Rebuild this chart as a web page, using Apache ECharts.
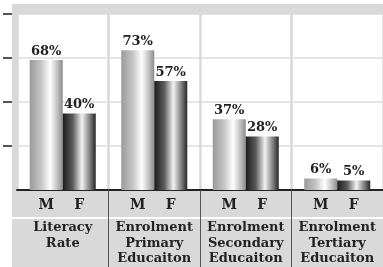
<!DOCTYPE html>
<html>
<head>
<meta charset="utf-8">
<script src="https://cdn.jsdelivr.net/npm/echarts@6/dist/echarts.min.js"></script>
<style>html,body{margin:0;padding:0;background:#fff;}#c{width:383px;height:267px;}</style>
</head>
<body>
<div id="c"></div>
<script>
const categories = ['Literacy\nRate', 'Enrolment\nPrimary\nEducaiton', 'Enrolment\nSecondary\nEducaiton', 'Enrolment\nTertiary\nEducaiton'];
const maleValues = [68, 73, 37, 6];
const femaleValues = [40, 57, 28, 5];
const seriesNames = ['M', 'F'];
const yTickValues = [23, 46, 69, 92];

const FONT = 'DejaVu Serif';
const chart = echarts.init(document.getElementById('c'), null, {renderer: 'canvas'});

const mGrad = new echarts.graphic.LinearGradient(0, 0, 1, 0, [
  {offset: 0, color: '#9a9a9a'},
  {offset: 0.35, color: '#c6c6c6'},
  {offset: 0.62, color: '#ffffff'},
  {offset: 0.85, color: '#bdbdbd'},
  {offset: 1, color: '#8c8c8c'}
]);
const fGrad = new echarts.graphic.LinearGradient(0, 0, 1, 0, [
  {offset: 0, color: '#1c1c1c'},
  {offset: 0.3, color: '#5a5a5a'},
  {offset: 0.58, color: '#f2f2f2'},
  {offset: 0.8, color: '#8a8a8a'},
  {offset: 1, color: '#262626'}
]);

const barLabel = {
  show: true, position: 'top', distance: 2,
  formatter: '{c}%', fontFamily: FONT, fontWeight: 'bold', fontSize: 13, color: '#222'
};

chart.setOption({
  animation: false,
  backgroundColor: '#fff',
  grid: {left: 17, right: 0, top: 14, bottom: 77, containLabel: false},
  graphic: [
    {type: 'rect', z: -10, shape: {x: 12, y: 190, width: 371, height: 77}, style: {fill: '#d9d9d9'}},
    {type: 'rect', z: -9, shape: {x: 12, y: 217, width: 371, height: 2}, style: {fill: '#ffffff'}},
    {type: 'rect', z: -9, shape: {x: 12, y: 4, width: 5, height: 10}, style: {fill: '#d9d9d9'}}
  ],
  xAxis: [
    {
      type: 'category', position: 'bottom', data: categories,
      axisLine: {show: true, onZero: false, lineStyle: {color: '#222', width: 2}},
      axisTick: {show: true, length: 77, interval: function (i) { return i !== 0; }, lineStyle: {color: '#555', width: 1}},
      splitLine: {show: true, lineStyle: {color: '#d9d9d9', width: 2.5}},
      axisLabel: {
        margin: 0, interval: 0, color: '#222', fontFamily: FONT, fontWeight: 'bold', fontSize: 13,
        formatter: function (v) {
          return '{m|' + seriesNames[0] + '}{f|' + seriesNames[1] + '}\n' +
            v.split('\n').map(function (s) { return '{c|' + s + '}'; }).join('\n');
        },
        rich: {
          m: {width: 33, align: 'center', fontSize: 14, fontWeight: 'bold', fontFamily: FONT, color: '#222', lineHeight: 30},
          f: {width: 33, align: 'center', fontSize: 14, fontWeight: 'bold', fontFamily: FONT, color: '#222', lineHeight: 30},
          c: {fontSize: 13, fontWeight: 'bold', fontFamily: FONT, color: '#222', lineHeight: 15.5}
        }
      }
    },
    {
      type: 'category', position: 'top', offset: 5, data: categories,
      axisLine: {show: true, onZero: false, lineStyle: {color: '#d9d9d9', width: 10}},
      axisTick: {show: false}, axisLabel: {show: false}, splitLine: {show: false}
    }
  ],
  yAxis: [
    {
      type: 'value', min: 0, max: 92, interval: 23, position: 'left', offset: 2.5,
      axisLine: {show: true, onZero: false, lineStyle: {color: '#d9d9d9', width: 5}},
      axisTick: {show: false}, axisLabel: {show: false},
      splitLine: {show: true, lineStyle: {color: '#dcdcdc', width: 1.5}}
    },
    {
      type: 'value', min: 0, max: 92, interval: 23, position: 'left', offset: 5,
      axisLine: {show: false, onZero: false},
      axisTick: {show: true, length: 9, customValues: yTickValues, lineStyle: {color: '#555', width: 2}},
      axisLabel: {show: false}, splitLine: {show: false}
    }
  ],
  series: [
    {name: seriesNames[0], type: 'bar', data: maleValues, barWidth: 33, barGap: '0%', itemStyle: {color: mGrad}, label: barLabel},
    {name: seriesNames[1], type: 'bar', data: femaleValues, barWidth: 33, barGap: '0%', itemStyle: {color: fGrad}, label: barLabel}
  ]
});
</script>
</body>
</html>
